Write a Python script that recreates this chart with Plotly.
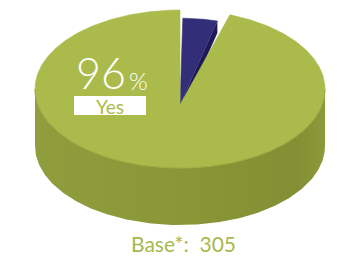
import numpy as np
import plotly.graph_objects as go

# ---- data ----
labels = ["No", "Yes"]
values = [4, 96]
top_colors = ["#332E78", "#ABBB4B"]
cut_colors = ["#1E1A55", "#8E9C3C"]
highlight_label = "Yes"
highlight_pct = "96"
base_text = "Base*:  305"

# ---- geometry (styling) ----
W, H = 363, 265
cx, cy, rx, ry = 180, 89, 145, 79
a = 0.2            # perspective factor
depth = 57
c = np.sqrt(1 - a * a)
GREEN = "#ABBB4B"


def proj(phi_deg, r):
    phi = np.radians(phi_deg)
    u = r * np.sin(phi)
    v = -r * np.cos(phi)
    w = 1 + a * v
    return cx + rx * c * u / w, cy + ry * (v + a) / w


total = sum(values)
angles = []
acc = 0.0
for v in values:
    angles.append((acc / total * 360, (acc + v) / total * 360))
    acc += v

# explode gaps: (start inset, end inset, radius)
style = {"No": (1.0, 1.0, 0.93), "Yes": (2.1, 0.0, 1.0)}

fig = go.Figure()

# side wall of the cylinder (front half)
t = np.linspace(0, np.pi, 200)
xs_top = cx + rx * np.cos(t)
ys_top = cy + ry * np.sin(t)
side_x = np.concatenate([xs_top, xs_top[::-1]])
side_y = np.concatenate([ys_top, ys_top[::-1] + depth])
fig.add_trace(go.Scatter(
    x=side_x, y=side_y, mode="lines", fill="toself",
    line=dict(width=0, color="#8A9838"),
    fillgradient=dict(type="horizontal",
                      colorscale=[[0, "#8F9D3D"], [0.5, "#899738"], [0.9, "#829033"], [1, "#8C9A3B"]]),
    hoverinfo="skip", showlegend=False))

slices = []
for lab, (a0, a1), tc, sc in zip(labels, angles, top_colors, cut_colors):
    s_in, e_in, r = style[lab]
    phis = np.linspace(a0 + s_in, a1 - e_in, max(10, int((a1 - a0) * 2)))
    px, py = proj(phis, r)
    ax, ay = proj(0, 0)
    slices.append((lab, phis, r, px, py, ax, ay, tc, sc))

# cut face of the small slice (visible right edge)
for lab, phis, r, px, py, ax, ay, tc, sc in slices:
    if lab == "No":
        ex, ey = px[-1], py[-1]
        fx = [ax, ex, ex, ax]
        fy = [ay, ey, ey + 12, ay + 12]
        fig.add_trace(go.Scatter(x=fx, y=fy, mode="lines", fill="toself",
                                 fillcolor=sc, line=dict(width=0, color=sc),
                                 hoverinfo="skip", showlegend=False))

# top faces
for lab, phis, r, px, py, ax, ay, tc, sc in slices:
    fx = np.concatenate([[ax], px, [ax]])
    fy = np.concatenate([[ay], py, [ay]])
    fig.add_trace(go.Scatter(x=fx, y=fy, mode="lines", fill="toself",
                             fillcolor=tc, line=dict(width=0.6, color=tc),
                             hoverinfo="skip", showlegend=False))

# subtle rim edge
fig.add_trace(go.Scatter(x=xs_top, y=ys_top, mode="lines",
                         line=dict(width=1, color="#9CAB43"),
                         hoverinfo="skip", showlegend=False))

FONT = "Lato"
fig.add_annotation(x=101, y=71.5, text=highlight_pct, showarrow=False, height=36,
                   font=dict(family=FONT, size=43, color="white", weight=300),
                   xanchor="center", yanchor="middle", valign="middle")
fig.add_annotation(x=138, y=80, text="%", showarrow=False, height=20,
                   font=dict(family=FONT, size=24, color="white", weight=300),
                   xanchor="center", yanchor="middle", valign="middle")
fig.add_shape(type="rect", x0=74, x1=146, y0=96, y1=115,
              fillcolor="white", line=dict(width=0))
fig.add_annotation(x=110, y=106.5, text=highlight_label, showarrow=False, height=17,
                   font=dict(family=FONT, size=19, color=GREEN),
                   xanchor="center", yanchor="middle", valign="middle")
fig.add_annotation(x=183, y=243, text=base_text, showarrow=False,
                   font=dict(family=FONT, size=21, color="#A8B94C"),
                   xanchor="center", yanchor="middle")

fig.update_layout(
    width=W, height=H, margin=dict(l=0, r=0, t=0, b=0),
    paper_bgcolor="white", plot_bgcolor="white",
    xaxis=dict(range=[0, W], visible=False, fixedrange=True),
    yaxis=dict(range=[H, 0], visible=False, fixedrange=True),
    showlegend=False,
)
fig.write_html("out.html")
